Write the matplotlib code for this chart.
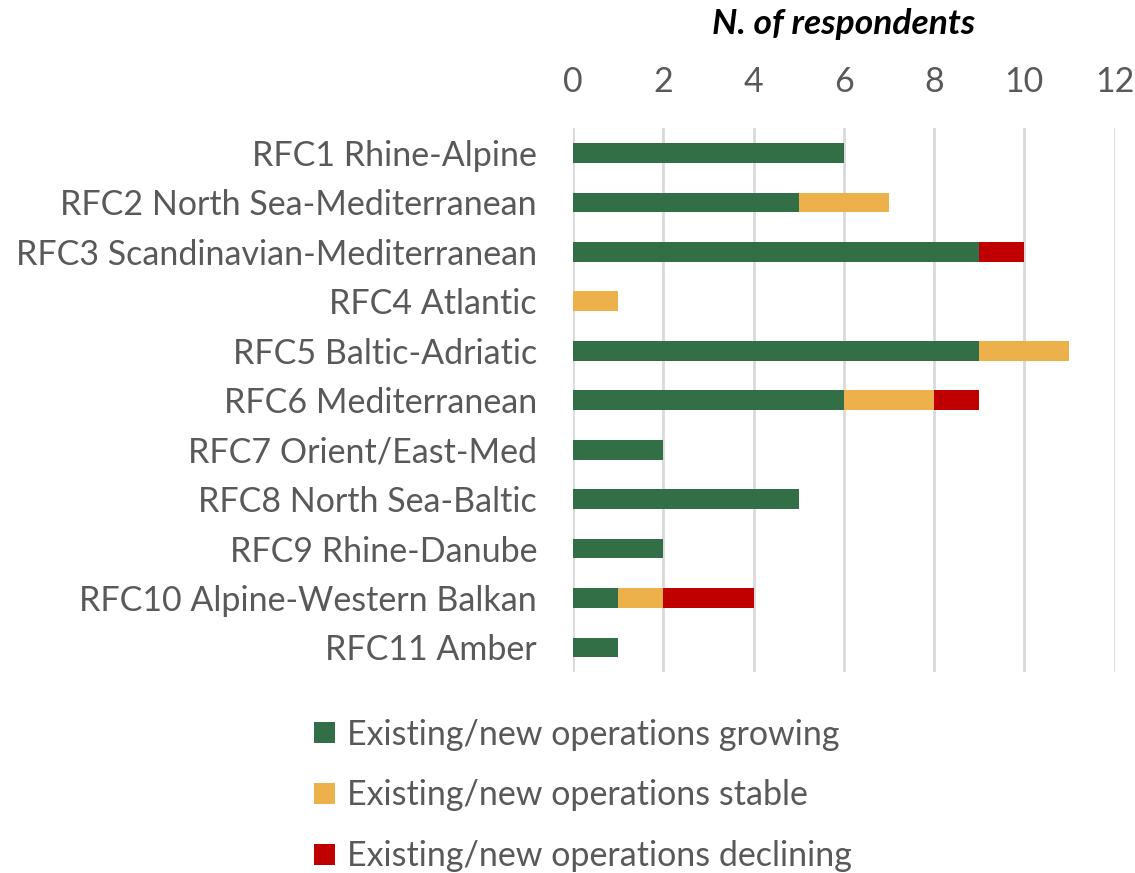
import matplotlib.pyplot as plt
import numpy as np

plt.rcParams['font.family'] = ['Lato', 'DejaVu Sans']

corridors = ["RFC1 Rhine-Alpine", "RFC2 North Sea-Mediterranean",
             "RFC3 Scandinavian-Mediterranean", "RFC4 Atlantic",
             "RFC5 Baltic-Adriatic", "RFC6 Mediterranean",
             "RFC7 Orient/East-Med", "RFC8 North Sea-Baltic",
             "RFC9 Rhine-Danube", "RFC10 Alpine-Western Balkan",
             "RFC11 Amber"]
growing = [6, 5, 9, 0, 9, 6, 2, 5, 2, 1, 1]
stable = [0, 2, 0, 1, 2, 2, 0, 0, 0, 1, 0]
declining = [0, 0, 1, 0, 0, 1, 0, 0, 0, 2, 0]
series_names = ["Existing/new operations growing",
                "Existing/new operations stable",
                "Existing/new operations declining"]
colors = ["#336F46", "#ECB14A", "#C00000"]

grey = "#595959"

fig = plt.figure(figsize=(11.35, 8.73), dpi=100)
ax = fig.add_axes([0.505, 0.230, 0.477, 0.623])

y = np.arange(len(corridors))
left = np.zeros(len(corridors))
handles = []
for vals, name, c in zip([growing, stable, declining], series_names, colors):
    h = ax.barh(y, vals, left=left, height=0.4, color=c, label=name, zorder=3)
    handles.append(h)
    left += np.array(vals)

ax.set_ylim(len(corridors) - 0.5, -0.5)
ax.set_xlim(0, 12)
ax.set_xticks(range(0, 13, 2))
ax.set_yticks(y)
ax.set_yticklabels(corridors)
ax.xaxis.tick_top()
ax.xaxis.set_label_position('top')
ax.set_xlabel("N. of respondents", fontsize=25.5, fontweight='bold',
              fontstyle='italic', color='black', labelpad=23)
ax.tick_params(axis='x', length=0, labelsize=24.5, labelcolor=grey, pad=22)
ax.tick_params(axis='y', length=0, labelsize=24.5, labelcolor=grey, pad=26)
ax.grid(axis='x', color='#D9D9D9', linewidth=2, zorder=0)
for s in ax.spines.values():
    s.set_visible(False)

fig.legend(handles=handles, loc='upper left', bbox_to_anchor=(0.25, 0.212),
           frameon=False, fontsize=24.5, labelcolor=grey, handlelength=0.6,
           handleheight=0.6, handletextpad=0.35, labelspacing=0.85)

fig.savefig("out.png", dpi=100)
